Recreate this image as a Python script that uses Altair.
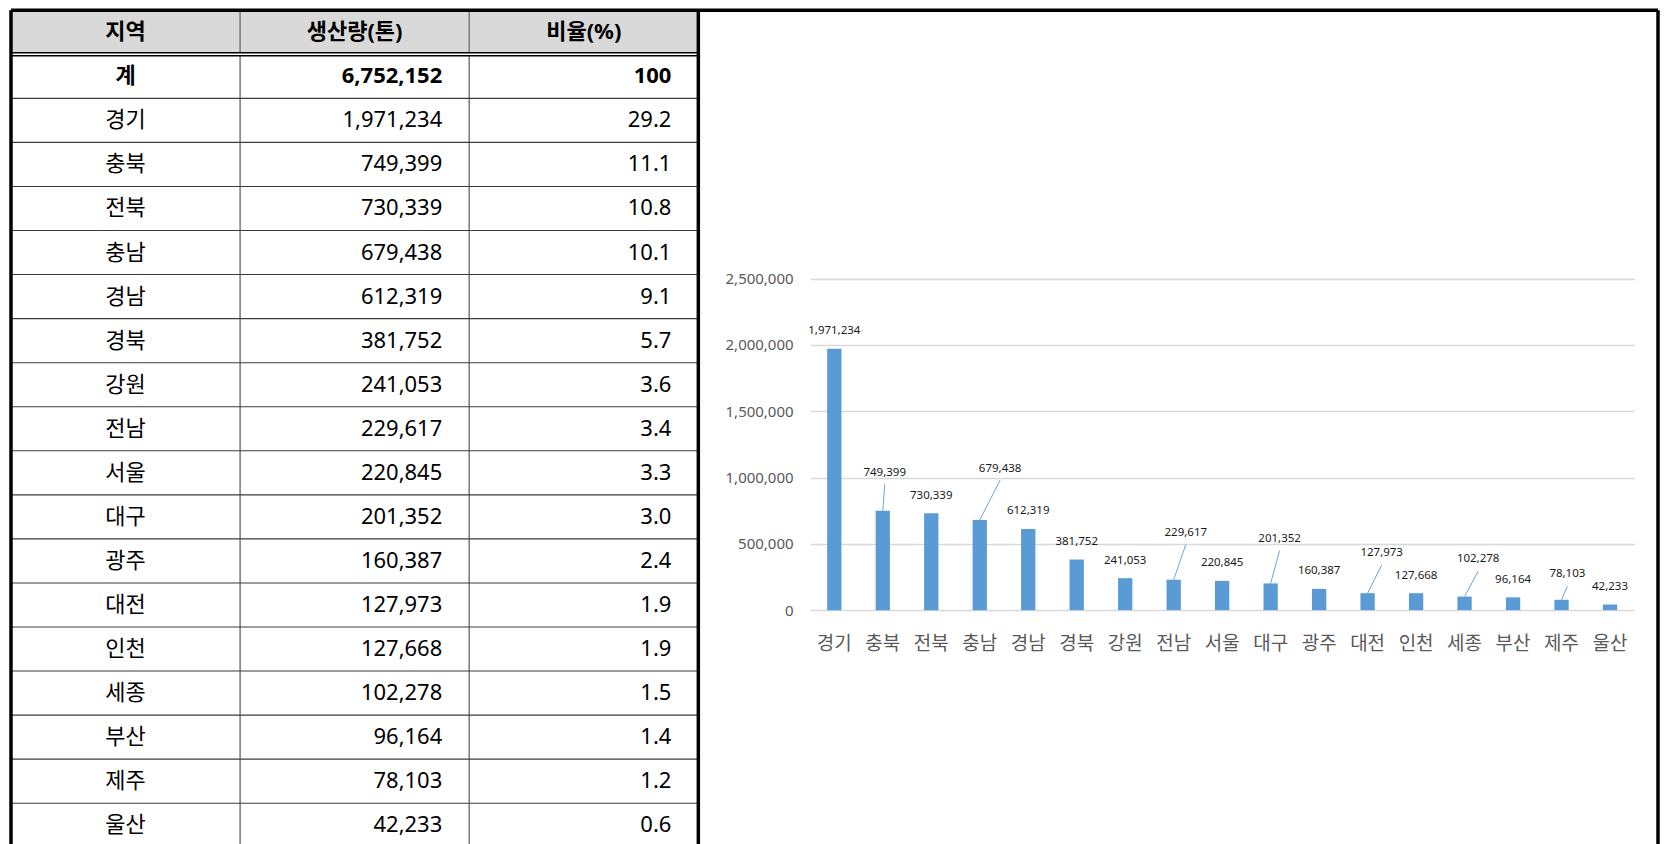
import altair as alt
import pandas as pd

# ---------------- data ----------------
headers = ["지역", "생산량(톤)", "비율(%)"]
total_name = "계"
total_production = 6752152
total_share = 100
regions = ["경기", "충북", "전북", "충남", "경남", "경북", "강원", "전남", "서울",
           "대구", "광주", "대전", "인천", "세종", "부산", "제주", "울산"]
production = [1971234, 749399, 730339, 679438, 612319, 381752, 241053, 229617, 220845,
              201352, 160387, 127973, 127668, 102278, 96164, 78103, 42233]
share = [29.2, 11.1, 10.8, 10.1, 9.1, 5.7, 3.6, 3.4, 3.3, 3.0, 2.4, 1.9, 1.9, 1.5, 1.4, 1.2, 0.6]
y_ticks = [0, 500000, 1000000, 1500000, 2000000, 2500000]

# data labels that were dragged away from their bars (with leader lines):
# horizontal shift in bar slots, label height in tons
moved_shift = {"충북": 0.04, "충남": 0.42, "전남": 0.25, "대구": 0.185,
               "대전": 0.29, "세종": 0.28, "제주": 0.12}
moved_height = {"충북": 1037800, "충남": 1068000, "전남": 582600, "대구": 537400,
                "대전": 427300, "세종": 382100, "제주": 269100}

# ---------------- layout ----------------
W, H = 1648, 836
COL_W, ROW_H = 229.25, 44.08
N_COLS = len(headers)
X_UNITS = W / COL_W
Y_UNITS = H / ROW_H
PX0, PX1 = 799.55, 1624.25      # bar plot horizontal range (px)
PY0, PY1 = 600.25, 268.55       # value 0 / axis max (px)
Y_MAX = y_ticks[-1]
LEADER_GAP = 88000

FONT = "Noto Sans, Noto Sans CJK KR"
KFONT = "Noto Sans CJK KR"

tx = alt.Scale(domain=[0, X_UNITS], range=[0, W], nice=False, zero=False)
ty = alt.Scale(domain=[0, Y_UNITS], range=[0, H], nice=False, zero=False)

# ---------------- table ----------------
rows = [headers, [total_name, f"{total_production:,}", f"{total_share}"]] + [
    [r, f"{p:,}", f"{s:.1f}"] for r, p, s in zip(regions, production, share)]
cells = pd.DataFrame([
    {"r": i + 0.5, "c": j + 0.5, "c_right": j + 1, "text": t,
     "bold": i < 2, "centered": (j == 0 or i == 0)}
    for i, row in enumerate(rows) for j, t in enumerate(row)])


def cell_text(centered, bold):
    d = cells[(cells.centered == centered) & (cells.bold == bold)]
    props = dict(baseline="middle", fontSize=22, font=FONT, color="black",
                 fontWeight="bold" if bold else "normal")
    if centered:
        return alt.Chart(d).mark_text(align="center", **props).encode(
            x=alt.X("c:Q", scale=tx, axis=None),
            y=alt.Y("r:Q", scale=ty, axis=None), text="text:N")
    return alt.Chart(d).mark_text(align="right", dx=-27, **props).encode(
        x=alt.X("c_right:Q", scale=tx, axis=None),
        y=alt.Y("r:Q", scale=ty, axis=None), text="text:N")


def hrules(df, **kw):
    return alt.Chart(df).mark_rule(**kw).encode(
        x=alt.X("x:Q", scale=tx, axis=None), x2="x2:Q",
        y=alt.Y("y:Q", scale=ty, axis=None))


def vrules(df, **kw):
    return alt.Chart(df).mark_rule(**kw).encode(
        x=alt.X("x:Q", scale=tx, axis=None),
        y=alt.Y("y:Q", scale=ty, axis=None), y2="y2:Q")


hdr_bg = alt.Chart(pd.DataFrame({"x": [0], "x2": [N_COLS], "y": [0], "y2": [1]})).mark_rect(
    color="#D9D9D9").encode(x=alt.X("x:Q", scale=tx, axis=None), x2="x2:Q",
                            y=alt.Y("y:Q", scale=ty, axis=None), y2="y2:Q")
row_edges = list(range(2, int(Y_UNITS) + 1))
row_lines = hrules(pd.DataFrame({"x": 0, "x2": N_COLS, "y": row_edges}),
                   color="#3c3c3c", strokeWidth=1.1)
dbl_a = hrules(pd.DataFrame({"x": [0], "x2": [N_COLS], "y": [1]}), color="black", strokeWidth=4.6)
dbl_b = hrules(pd.DataFrame({"x": [0], "x2": [N_COLS], "y": [1]}), color="white", strokeWidth=1.6)
inner_v = vrules(pd.DataFrame({"x": list(range(1, N_COLS)), "y": 0, "y2": Y_UNITS}),
                 color="#808080", strokeWidth=1.6)
outer_v = vrules(pd.DataFrame({"x": [0, N_COLS, X_UNITS], "y": 0, "y2": Y_UNITS}),
                 color="black", strokeWidth=3.5)
top_b = hrules(pd.DataFrame({"x": [0], "x2": [X_UNITS], "y": [0]}), color="black", strokeWidth=3.5)

table = alt.layer(hdr_bg, inner_v, row_lines, dbl_a, dbl_b, outer_v, top_b,
                  cell_text(True, True), cell_text(True, False),
                  cell_text(False, True), cell_text(False, False))

# ---------------- bar chart ----------------
bars_df = pd.DataFrame({"region": regions, "production": production})
x_band = alt.Scale(domain=regions, range=[PX0, PX1], paddingInner=0.705, paddingOuter=0.3525)
y_val = alt.Scale(domain=[0, Y_MAX], range=[PY0, PY1], nice=False, zero=True)

bars = alt.Chart(bars_df).mark_bar(color="#5B9BD5").encode(
    x=alt.X("region:N", sort=regions, scale=x_band,
            axis=alt.Axis(orient="bottom", offset=PY0 - H, title=None, labelAngle=0,
                          domain=False, ticks=False, grid=False, labelPadding=33,
                          labelBaseline="middle", labelFontSize=19, labelColor="#595959",
                          labelFont=KFONT)),
    y=alt.Y("production:Q", scale=y_val,
            axis=alt.Axis(orient="left", offset=-PX0, values=y_ticks, format=",d", title=None,
                          domain=False, ticks=False, labelPadding=17, labelFontSize=15,
                          labelColor="#595959", labelFont=FONT, grid=True,
                          gridColor="#D9D9D9", gridWidth=1.5)))
bar_group = alt.layer(bars)

# ---------------- data labels ----------------
lab = pd.DataFrame({"slot": [i + 0.5 for i in range(len(regions))],
                    "region": regions, "production": production})
lab["label_x"] = lab["slot"] + lab["region"].map(moved_shift).fillna(0)
lab["label_y"] = lab["region"].map(moved_height)
lab["leader_top"] = lab["label_y"] - LEADER_GAP
lab["text"] = [f"{v:,}" for v in production]
moved = lab[lab["label_y"].notna()]
plain = lab[lab["label_y"].isna()]
xs = alt.Scale(domain=[0, len(regions)], range=[PX0, PX1], nice=False, zero=False)

leaders = alt.Chart(moved).mark_rule(color="#6FA3D8", strokeWidth=1).encode(
    x=alt.X("slot:Q", scale=xs, axis=None), x2="label_x:Q",
    y=alt.Y("production:Q", scale=y_val, axis=None), y2="leader_top:Q")
txt_props = dict(baseline="middle", align="center", fontSize=11.5, font=FONT, color="#1a1a1a")
plain_txt = alt.Chart(plain).mark_text(dy=-17.5, **txt_props).encode(
    x=alt.X("slot:Q", scale=xs, axis=None),
    y=alt.Y("production:Q", scale=y_val, axis=None), text="text:N")
moved_txt = alt.Chart(moved).mark_text(**txt_props).encode(
    x=alt.X("label_x:Q", scale=xs, axis=None),
    y=alt.Y("label_y:Q", scale=y_val, axis=None), text="text:N")
label_group = alt.layer(leaders, plain_txt, moved_txt)

chart = alt.layer(table, bar_group, label_group).resolve_scale(
    x="independent", y="independent").properties(
    width=W, height=H, background="white", padding=0).configure_view(stroke=None)

chart.save("out.html", embed_options={"renderer": "svg", "actions": False})
